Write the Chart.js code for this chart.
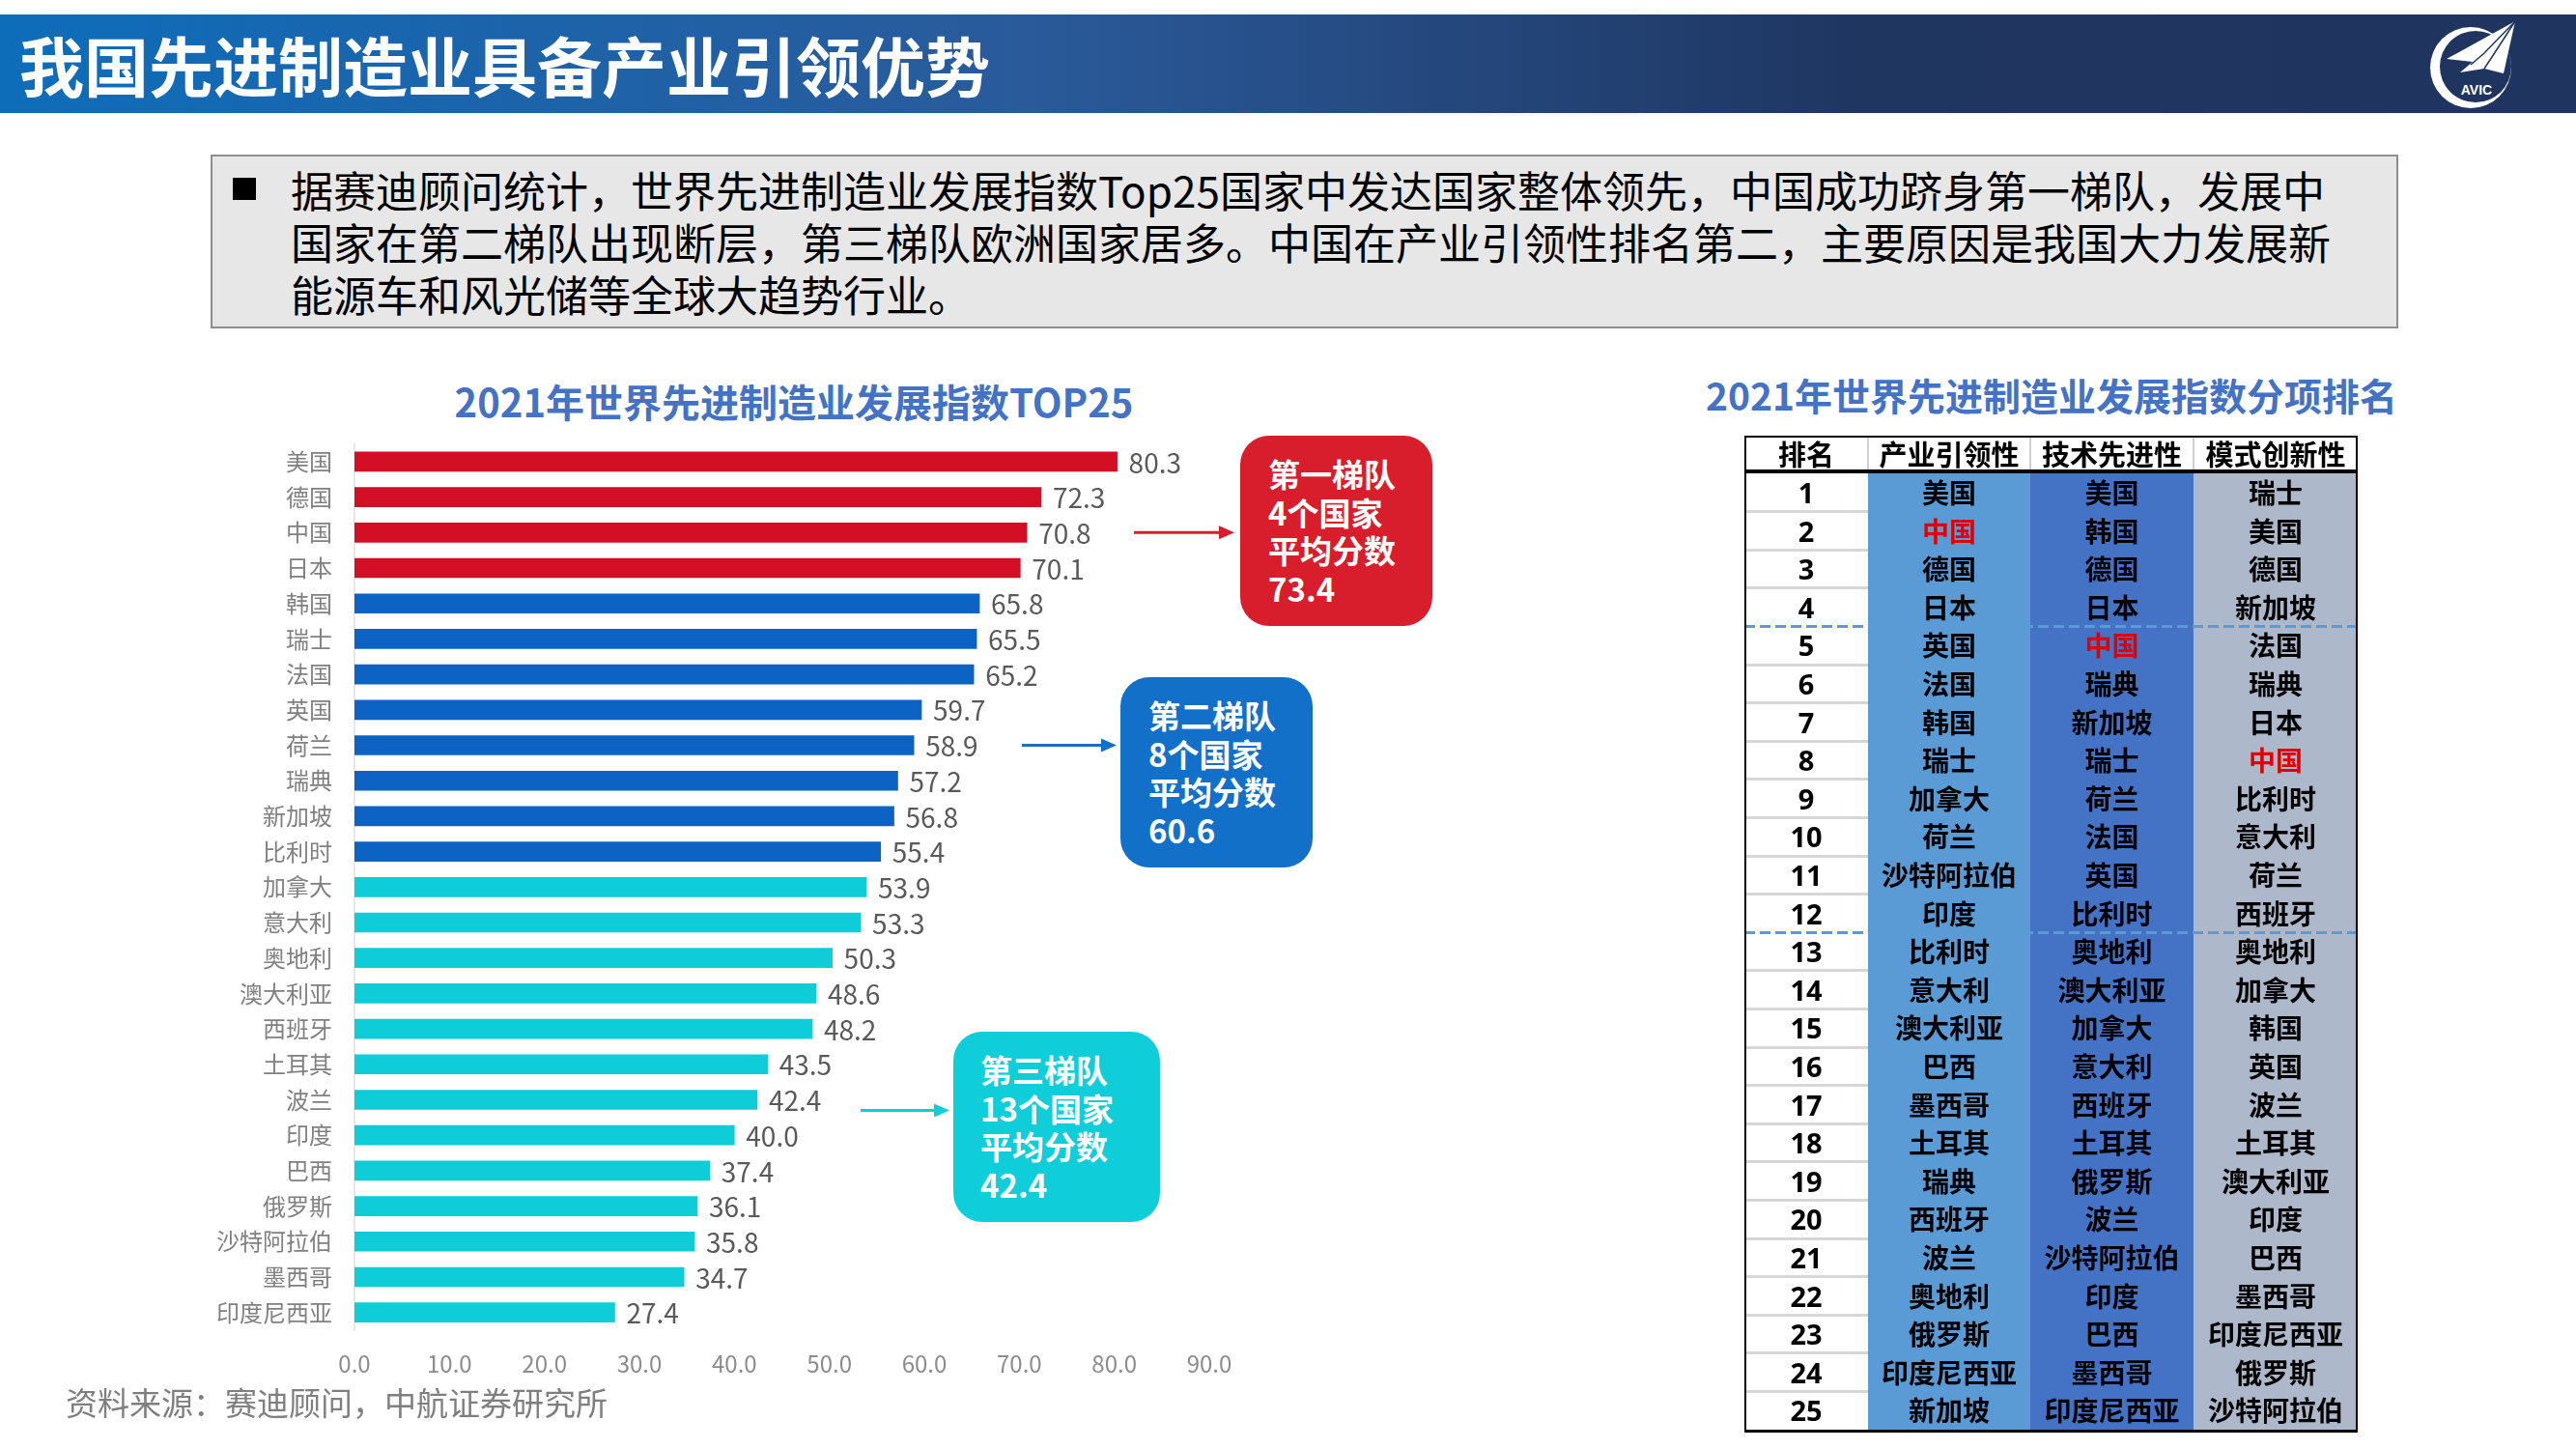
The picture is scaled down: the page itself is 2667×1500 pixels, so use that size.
<!DOCTYPE html>
<html lang="zh">
<head>
<meta charset="UTF-8">
<title>我国先进制造业具备产业引领优势</title>
<script src="https://cdn.jsdelivr.net/npm/chart.js@4.4.1/dist/chart.umd.min.js"></script>
<style>
  body { margin: 0; width: 2667px; height: 1500px; position: relative; overflow: hidden; background: #fff;
         font-family: "Noto Sans CJK SC", "Noto Sans", sans-serif; }
  .abs { position: absolute; }
  #band { left: 0; top: 15px; width: 2667px; height: 102px;
          background: linear-gradient(90deg, #0E6DBA 0%, #2A5A9A 40%, #1F3661 72%, #1F3560 100%); }
  #mainTitle { left: 20px; top: 15px; height: 102px; line-height: 102px; color: #fff; font-size: 67px; font-weight: 700; }
  #note { left: 218px; top: 160px; width: 2261px; height: 176px; background: #E7E7E7; border: 2px solid #8E8E8E; }
  #bullet { left: 241px; top: 184px; width: 24px; height: 23px; background: #000; }
  #noteText { left: 301px; top: 169px; font-size: 44px; line-height: 54px; color: #000; white-space: nowrap; }
  .ctitle { color: #4472C4; font-weight: 700; text-align: center; width: 900px; line-height: 50px; }
  #source { left: 68px; top: 1430px; font-size: 33px; line-height: 42px; color: #7F7F7F; }
  .tier { border-radius: 30px; color: #fff; font-weight: 700; font-size: 33px; line-height: 39.5px;
          box-sizing: border-box; padding-top: 20px; }
  #tbl { left: 1806px; top: 451px; width: 635px; height: 1032px; }
  .cell { position: absolute; text-align: center; font-weight: 700; color: #000; white-space: nowrap; }
</style>
</head>
<body>
<div id="band" class="abs"></div>
<div id="mainTitle" class="abs">我国先进制造业具备产业引领优势</div>
<svg class="abs" style="left:2500px;top:15px" width="120" height="102" viewBox="0 0 120 102">
  <circle cx="58" cy="55" r="42" fill="#fff"/>
  <circle cx="63" cy="54" r="37" fill="#1F3560"/>
  <polygon points="104,7 33,46 60,49 47,60 72,56 92,61" fill="#fff"/>
  <polyline points="104,7 72,40 58,52" fill="none" stroke="#1F3560" stroke-width="1.5"/>
  <polyline points="104,7 80,44 72,56" fill="none" stroke="#1F3560" stroke-width="1.5"/>
  <text x="64" y="83" fill="#fff" font-size="14" font-weight="700" text-anchor="middle" font-family="Liberation Sans, sans-serif">AVIC</text>
</svg>

<div id="note" class="abs"></div>
<div id="bullet" class="abs"></div>
<div id="noteText" class="abs"></div>

<div class="abs ctitle" style="left:372px;top:390px;font-size:40px;">2021年世界先进制造业发展指数TOP25</div>
<div class="abs ctitle" style="left:1674px;top:383px;font-size:39px;">2021年世界先进制造业发展指数分项排名</div>

<canvas id="chart" class="abs" width="2667" height="1500" style="left:0;top:0;"></canvas>

<div id="tier0" class="abs tier" style="left:1284px;top:451px;width:199px;height:197px;background:#D81E2C;padding-left:29px;"></div>
<div id="tier1" class="abs tier" style="left:1160px;top:701px;width:199px;height:197px;background:#1270C8;padding-left:29px;"></div>
<div id="tier2" class="abs tier" style="left:987px;top:1068px;width:214px;height:197px;background:#10CED9;padding-left:28px;"></div>

<div id="tbl" class="abs"></div>
<div id="source" class="abs">资料来源：赛迪顾问，中航证券研究所</div>

<script>
// ---- bar chart data ----
const countries = ['美国', '德国', '中国', '日本', '韩国', '瑞士', '法国', '英国', '荷兰', '瑞典', '新加坡', '比利时',
  '加拿大', '意大利', '奥地利', '澳大利亚', '西班牙', '土耳其', '波兰', '印度', '巴西', '俄罗斯', '沙特阿拉伯', '墨西哥', '印度尼西亚'];
const scores = [80.3, 72.3, 70.8, 70.1, 65.8, 65.5, 65.2, 59.7, 58.9, 57.2, 56.8, 55.4,
  53.9, 53.3, 50.3, 48.6, 48.2, 43.5, 42.4, 40.0, 37.4, 36.1, 35.8, 34.7, 27.4];
const tierOf = [0, 0, 0, 0, 1, 1, 1, 1, 1, 1, 1, 1, 2, 2, 2, 2, 2, 2, 2, 2, 2, 2, 2, 2, 2];
const xTicks = [0, 10, 20, 30, 40, 50, 60, 70, 80, 90];

// ---- tier callouts ----
const tierNames = ['第一梯队', '第二梯队', '第三梯队'];
const tierCounts = [4, 8, 13];
const tierAverages = [73.4, 60.6, 42.4];
const tierArrowRows = [2, 8, 18.3];

// ---- ranking table ----
const rankHeaders = ['排名', '产业引领性', '技术先进性', '模式创新性'];
const industryRank = ['美国', '中国', '德国', '日本', '英国', '法国', '韩国', '瑞士', '加拿大', '荷兰', '沙特阿拉伯', '印度',
  '比利时', '意大利', '澳大利亚', '巴西', '墨西哥', '土耳其', '瑞典', '西班牙', '波兰', '奥地利', '俄罗斯', '印度尼西亚', '新加坡'];
const techRank = ['美国', '韩国', '德国', '日本', '中国', '瑞典', '新加坡', '瑞士', '荷兰', '法国', '英国', '比利时',
  '奥地利', '澳大利亚', '加拿大', '意大利', '西班牙', '土耳其', '俄罗斯', '波兰', '沙特阿拉伯', '印度', '巴西', '墨西哥', '印度尼西亚'];
const modeRank = ['瑞士', '美国', '德国', '新加坡', '法国', '瑞典', '日本', '中国', '比利时', '意大利', '荷兰', '西班牙',
  '奥地利', '加拿大', '韩国', '英国', '波兰', '土耳其', '澳大利亚', '印度', '巴西', '墨西哥', '印度尼西亚', '俄罗斯', '沙特阿拉伯'];

const noteLines = [
  '据赛迪顾问统计，世界先进制造业发展指数Top25国家中发达国家整体领先，中国成功跻身第一梯队，发展中',
  '国家在第二梯队出现断层，第三梯队欧洲国家居多。中国在产业引领性排名第二，主要原因是我国大力发展新',
  '能源车和风光储等全球大趋势行业。'
];

const tierColors = ['#D20F24', '#0D63C4', '#0ECDD8'];
const arrowColors = ['#D81E2C', '#1270C8', '#10CED9'];
const arrowX = [[1174, 1278], [1058, 1156], [891, 983]];

document.getElementById('noteText').innerHTML = noteLines.join('<br>');
tierNames.forEach((n, i) => {
  document.getElementById('tier' + i).innerHTML =
    n + '<br>' + tierCounts[i] + '个国家<br>平均分数<br>' + tierAverages[i].toFixed(1);
});

// table
const tbl = document.getElementById('tbl');
const colX = [0, 128, 296, 465, 635];
const colBg = ['#FFFFFF', '#5B9BD5', '#4472C4', '#ADB9CA'];
const headH = 39, rowH = 39.6;
function addDiv(style, text) {
  const d = document.createElement('div');
  d.className = 'cell';
  Object.assign(d.style, style);
  if (text !== undefined) d.textContent = text;
  tbl.appendChild(d);
  return d;
}
// column backgrounds
for (let c = 0; c < 4; c++) {
  addDiv({ left: colX[c] + 'px', top: headH + 'px', width: (colX[c + 1] - colX[c]) + 'px',
           height: (rowH * 25) + 'px', background: colBg[c] });
}
// header
rankHeaders.forEach((h, c) => {
  addDiv({ left: colX[c] + 'px', top: '0px', width: (colX[c + 1] - colX[c]) + 'px', height: headH + 'px',
           lineHeight: '37px', fontSize: '29px' }, h);
  if (c > 0) addDiv({ left: (colX[c] - 1) + 'px', top: '2px', width: '2px', height: '33px', background: '#D0D0D0' });
});
addDiv({ left: '0px', top: '0px', width: '635px', height: '2px', background: '#000' });
addDiv({ left: '0px', top: (headH - 4) + 'px', width: '635px', height: '4px', background: '#000' });
// body
const cols = [null, industryRank, techRank, modeRank];
for (let r = 0; r < 25; r++) {
  const top = headH + r * rowH;
  if (r > 0) {
    if (r === 4 || r === 12) {
      addDiv({ left: '0px', top: (top - 1.5) + 'px', width: '635px', height: '3px',
               background: 'repeating-linear-gradient(90deg, #5B9BD5 0 11px, transparent 11px 16px)' });
    } else {
      addDiv({ left: '0px', top: (top - 1.5) + 'px', width: colX[1] + 'px', height: '3px', background: '#D6D6D6' });
    }
  }
  addDiv({ left: '0px', top: top + 'px', width: colX[1] + 'px', height: rowH + 'px', lineHeight: rowH + 'px',
           fontSize: '29px', fontFamily: '"Noto Sans", sans-serif' }, String(r + 1));
  for (let c = 1; c < 4; c++) {
    const name = cols[c][r];
    addDiv({ left: colX[c] + 'px', top: top + 'px', width: (colX[c + 1] - colX[c]) + 'px', height: rowH + 'px',
             lineHeight: rowH + 'px', fontSize: '28px', color: name === '中国' ? '#E00000' : '#000' }, name);
  }
}
addDiv({ left: '0px', top: '0px', width: '2px', height: (headH + rowH * 25 + 3) + 'px', background: '#000' });
addDiv({ left: '633px', top: '0px', width: '2px', height: (headH + rowH * 25 + 3) + 'px', background: '#000' });
addDiv({ left: '0px', top: (headH + rowH * 25) + 'px', width: '635px', height: '3px', background: '#000' });

// ---- chart ----
Chart.defaults.font.family = '"Noto Sans CJK SC", "Noto Sans", sans-serif';

const valueLabels = {
  id: 'valueLabels',
  afterDatasetsDraw(chart) {
    const ctx = chart.ctx;
    const meta = chart.getDatasetMeta(0);
    ctx.save();
    ctx.fillStyle = '#595959';
    ctx.font = '28px "Noto Sans CJK SC", "Noto Sans", sans-serif';
    ctx.textAlign = 'left';
    ctx.textBaseline = 'middle';
    meta.data.forEach((bar, i) => {
      ctx.fillText(scores[i].toFixed(1), bar.x + 12, bar.y + 1);
    });
    ctx.restore();
  }
};

const tierArrows = {
  id: 'tierArrows',
  afterDraw(chart) {
    const ctx = chart.ctx;
    const yScale = chart.scales.y;
    ctx.save();
    tierArrowRows.forEach((row, i) => {
      const y = yScale.getPixelForValue(row);
      const [x1, x2] = arrowX[i];
      ctx.strokeStyle = arrowColors[i];
      ctx.fillStyle = arrowColors[i];
      ctx.lineWidth = 3;
      ctx.beginPath();
      ctx.moveTo(x1, y);
      ctx.lineTo(x2 - 12, y);
      ctx.stroke();
      ctx.beginPath();
      ctx.moveTo(x2, y);
      ctx.lineTo(x2 - 16, y - 7);
      ctx.lineTo(x2 - 16, y + 7);
      ctx.closePath();
      ctx.fill();
    });
    ctx.restore();
  }
};

new Chart(document.getElementById('chart'), {
  type: 'bar',
  data: {
    labels: countries,
    datasets: [{
      data: scores,
      backgroundColor: tierOf.map(t => tierColors[t]),
      barThickness: 20
    }]
  },
  options: {
    indexAxis: 'y',
    responsive: false,
    animation: false,
    layout: { padding: { left: 0, top: 459.6, right: 1415, bottom: 63 } },
    plugins: { legend: { display: false }, tooltip: { enabled: false }, title: { display: false } },
    scales: {
      x: {
        min: xTicks[0],
        max: xTicks[xTicks.length - 1],
        afterBuildTicks: s => { s.ticks = xTicks.map(v => ({ value: v })); },
        ticks: { callback: v => Number(v).toFixed(1), color: '#8C8C8C', font: { size: 24 }, padding: 20, maxRotation: 0 },
        grid: { display: false, drawTicks: false },
        border: { display: false },
        afterFit: s => { s.height = 60; }
      },
      y: {
        ticks: { color: '#808080', font: { size: 24 }, padding: 23, autoSkip: false },
        grid: { display: false, drawTicks: false },
        border: { display: true, color: '#E8E8E8', width: 2 },
        afterFit: s => { s.width = 367; }
      }
    }
  },
  plugins: [valueLabels, tierArrows]
});
</script>
</body>
</html>
